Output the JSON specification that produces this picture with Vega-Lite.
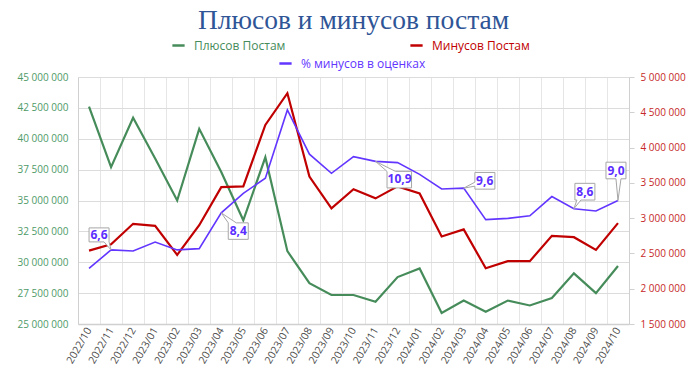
{
  "$schema": "https://vega.github.io/schema/vega-lite/v6.json",
  "autosize": {"type": "none"},
  "width": 551,
  "height": 247,
  "padding": {"left": 78, "top": 77, "right": 71, "bottom": 52},
  "background": "white",
  "title": {
    "text": "Плюсов и минусов постам",
    "font": "Liberation Serif",
    "fontSize": 27.5,
    "fontWeight": "normal",
    "color": "#2F5597",
    "anchor": "middle",
    "offset": 4
  },
  "config": {
    "view": {"stroke": null},
    "locale": {"number": {"decimal": ",", "thousands": " ", "grouping": [3], "currency": ["", ""]}},
    "axis": {"labelFont": "Open Sans", "titleFont": "Open Sans"},
    "legend": {"labelFont": "Open Sans"}
  },
  "data": {
    "values": [
      {"month": "2022/10", "plus": 42600000, "minus": 2540000, "pct": 5.7},
      {"month": "2022/11", "plus": 37700000, "minus": 2630000, "pct": 6.6},
      {"month": "2022/12", "plus": 41700000, "minus": 2920000, "pct": 6.55},
      {"month": "2023/01", "plus": 38400000, "minus": 2890000, "pct": 6.98},
      {"month": "2023/02", "plus": 35000000, "minus": 2480000, "pct": 6.6},
      {"month": "2023/03", "plus": 40800000, "minus": 2900000, "pct": 6.66},
      {"month": "2023/04", "plus": 37300000, "minus": 3440000, "pct": 8.4},
      {"month": "2023/05", "plus": 33400000, "minus": 3450000, "pct": 9.35},
      {"month": "2023/06", "plus": 38500000, "minus": 4320000, "pct": 10.08},
      {"month": "2023/07", "plus": 30900000, "minus": 4770000, "pct": 13.4},
      {"month": "2023/08", "plus": 28300000, "minus": 3590000, "pct": 11.25},
      {"month": "2023/09", "plus": 27350000, "minus": 3140000, "pct": 10.32},
      {"month": "2023/10", "plus": 27350000, "minus": 3410000, "pct": 11.13},
      {"month": "2023/11", "plus": 26800000, "minus": 3280000, "pct": 10.9},
      {"month": "2023/12", "plus": 28800000, "minus": 3450000, "pct": 10.84},
      {"month": "2024/01", "plus": 29500000, "minus": 3350000, "pct": 10.27},
      {"month": "2024/02", "plus": 25900000, "minus": 2740000, "pct": 9.56},
      {"month": "2024/03", "plus": 26900000, "minus": 2840000, "pct": 9.6},
      {"month": "2024/04", "plus": 26000000, "minus": 2290000, "pct": 8.07},
      {"month": "2024/05", "plus": 26900000, "minus": 2390000, "pct": 8.13},
      {"month": "2024/06", "plus": 26500000, "minus": 2390000, "pct": 8.26},
      {"month": "2024/07", "plus": 27100000, "minus": 2750000, "pct": 9.19},
      {"month": "2024/08", "plus": 29100000, "minus": 2730000, "pct": 8.6},
      {"month": "2024/09", "plus": 27500000, "minus": 2550000, "pct": 8.49},
      {"month": "2024/10", "plus": 29700000, "minus": 2930000, "pct": 9.0}
    ]
  },
  "encoding": {
    "x": {
      "field": "month",
      "type": "ordinal",
      "scale": {"type": "band", "paddingInner": 0, "paddingOuter": 0},
      "axis": {
        "title": null,
        "labelAngle": -60,
        "labelFontSize": 10.5,
        "labelColor": "#4D4D4D",
        "labelPadding": 4,
        "ticks": false,
        "tickBand": "extent",
        "grid": true,
        "gridColor": "#E6E6E6",
        "domainColor": "#D0D0D0",
        "domainWidth": 1.5
      }
    }
  },
  "layer": [
    {
      "mark": {"type": "line", "strokeWidth": 2.2},
      "encoding": {
        "y": {
          "field": "plus",
          "type": "quantitative",
          "scale": {"domain": [25000000, 45000000], "nice": false, "zero": false},
          "axis": {
            "orient": "left",
            "title": null,
            "values": [25000000, 27500000, 30000000, 32500000, 35000000, 37500000, 40000000, 42500000, 45000000],
            "format": ",d",
            "labelColor": "#4E9A68",
            "labelFontSize": 10,
            "labelPadding": 10,
            "ticks": false,
            "grid": true,
            "gridColor": "#DCDCDC",
            "domain": true,
            "domainColor": "#D0D0D0"
          }
        },
        "color": {
          "datum": "Плюсов Постам",
          "type": "nominal",
          "scale": {"range": ["#468C5A"]},
          "legend": {
            "orient": "none", "legendX": 93, "legendY": -39, "title": null,
            "labelColor": "#468C5A", "labelFontSize": 12, "labelOffset": 8,
            "symbolType": "stroke", "symbolStrokeWidth": 2.5, "symbolSize": 150, "padding": 0
          }
        }
      }
    },
    {
      "mark": {"type": "line", "strokeWidth": 2.2},
      "encoding": {
        "y": {
          "field": "minus",
          "type": "quantitative",
          "scale": {"domain": [1500000, 5000000], "nice": false, "zero": false},
          "axis": {
            "orient": "right",
            "title": null,
            "values": [1500000, 2000000, 2500000, 3000000, 3500000, 4000000, 4500000, 5000000],
            "format": ",d",
            "labelColor": "#C62828",
            "labelFontSize": 10,
            "labelPadding": 6,
            "ticks": true,
            "tickSize": 5,
            "tickColor": "#D0D0D0",
            "grid": false,
            "domain": true,
            "domainColor": "#D0D0D0"
          }
        },
        "color": {
          "datum": "Минусов Постам",
          "type": "nominal",
          "scale": {"range": ["#C00000"]},
          "legend": {
            "orient": "none", "legendX": 331, "legendY": -39, "title": null,
            "labelColor": "#C00000", "labelFontSize": 12, "labelOffset": 8,
            "symbolType": "stroke", "symbolStrokeWidth": 2.5, "symbolSize": 150, "padding": 0
          }
        }
      }
    },
    {
      "encoding": {
        "y": {
          "field": "pct",
          "type": "quantitative",
          "scale": {"domain": [3, 15], "nice": false, "zero": false},
          "axis": null
        }
      },
      "layer": [
        {
          "mark": {"type": "line", "strokeWidth": 1.6},
          "encoding": {
            "color": {
              "datum": "% минусов в оценках",
              "type": "nominal",
              "scale": {"range": ["#6236FF"]},
              "legend": {
                "orient": "none", "legendX": 200, "legendY": -21, "title": null,
                "labelColor": "#6236FF", "labelFontSize": 12, "labelOffset": 8,
                "symbolType": "stroke", "symbolStrokeWidth": 2.5, "symbolSize": 150, "padding": 0
              }
            }
          }
        },
        {
          "transform": [{"filter": "datum.month === '2022/11'"}],
          "mark": {"type": "point", "shape": "M-2.2,-2.2H-0.2V-0.8L0,0L-0.7,-0.8H-2.2Z", "size": 400, "filled": true, "fill": "white", "stroke": "#A6A6A6", "strokeWidth": 1, "opacity": 1}
        },
        {
          "transform": [{"filter": "datum.month === '2023/04'"}],
          "mark": {"type": "point", "shape": "M0,0L1.5,1.0H2.7V2.65H0.7V1.0Z", "size": 400, "filled": true, "fill": "white", "stroke": "#A6A6A6", "strokeWidth": 1, "opacity": 1}
        },
        {
          "transform": [{"filter": "datum.month === '2023/11'"}],
          "mark": {"type": "point", "shape": "M0,0L2.0,1.0H3.6V2.65H1.15V1.0Z", "size": 400, "filled": true, "fill": "white", "stroke": "#A6A6A6", "strokeWidth": 1, "opacity": 1}
        },
        {
          "transform": [{"filter": "datum.month === '2024/03'"}],
          "mark": {"type": "point", "shape": "M0,0L1.12,-0.6V-1.57H3.12V0.1H1.12V-0.2Z", "size": 400, "filled": true, "fill": "white", "stroke": "#A6A6A6", "strokeWidth": 1, "opacity": 1}
        },
        {
          "transform": [{"filter": "datum.month === '2024/08'"}],
          "mark": {"type": "point", "shape": "M0,0L0.3,-0.87H0.1V-2.54H2.1V-0.87H0.7Z", "size": 400, "filled": true, "fill": "white", "stroke": "#A6A6A6", "strokeWidth": 1, "opacity": 1}
        },
        {
          "transform": [{"filter": "datum.month === '2024/10'"}],
          "mark": {"type": "point", "shape": "M0,0L-0.2,-2.17H-1.2V-3.83H0.8V-2.17H0.3Z", "size": 400, "filled": true, "fill": "white", "stroke": "#A6A6A6", "strokeWidth": 1, "opacity": 1}
        },
        {
          "transform": [{"filter": "datum.month === '2022/11'"}],
          "mark": {"type": "text", "dx": -12, "dy": -15, "font": "Open Sans", "fontWeight": "bold", "fontSize": 12, "color": "#5B2EFF"},
          "encoding": {"text": {"field": "pct", "type": "quantitative", "format": ".1f"}}
        },
        {
          "transform": [{"filter": "datum.month === '2023/04'"}],
          "mark": {"type": "text", "dx": 17, "dy": 18, "font": "Open Sans", "fontWeight": "bold", "fontSize": 12, "color": "#5B2EFF"},
          "encoding": {"text": {"field": "pct", "type": "quantitative", "format": ".1f"}}
        },
        {
          "transform": [{"filter": "datum.month === '2023/11'"}],
          "mark": {"type": "text", "dx": 24, "dy": 18, "font": "Open Sans", "fontWeight": "bold", "fontSize": 12, "color": "#5B2EFF"},
          "encoding": {"text": {"field": "pct", "type": "quantitative", "format": ".1f"}}
        },
        {
          "transform": [{"filter": "datum.month === '2024/03'"}],
          "mark": {"type": "text", "dx": 21, "dy": -7, "font": "Open Sans", "fontWeight": "bold", "fontSize": 12, "color": "#5B2EFF"},
          "encoding": {"text": {"field": "pct", "type": "quantitative", "format": ".1f"}}
        },
        {
          "transform": [{"filter": "datum.month === '2024/08'"}],
          "mark": {"type": "text", "dx": 11, "dy": -17, "font": "Open Sans", "fontWeight": "bold", "fontSize": 12, "color": "#5B2EFF"},
          "encoding": {"text": {"field": "pct", "type": "quantitative", "format": ".1f"}}
        },
        {
          "transform": [{"filter": "datum.month === '2024/10'"}],
          "mark": {"type": "text", "dx": -2, "dy": -30, "font": "Open Sans", "fontWeight": "bold", "fontSize": 12, "color": "#5B2EFF"},
          "encoding": {"text": {"field": "pct", "type": "quantitative", "format": ".1f"}}
        }
      ]
    }
  ],
  "resolve": {
    "scale": {"y": "independent", "color": "independent"},
    "axis": {"y": "independent"}
  }
}
